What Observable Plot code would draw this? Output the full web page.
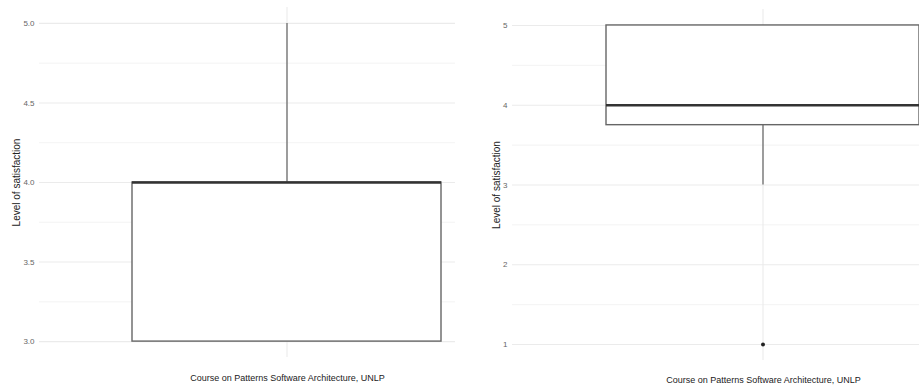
<!DOCTYPE html>
<html>
<head>
<meta charset="utf-8">
<script src="https://cdn.jsdelivr.net/npm/d3@7"></script>
<script src="https://cdn.jsdelivr.net/npm/@observablehq/plot@0.6"></script>
<style>
  html, body { margin: 0; padding: 0; background: #fff; }
  #root { position: relative; width: 919px; height: 388px; overflow: hidden; background: #fff; font-family: "Liberation Sans", Arial, sans-serif; }
  #left { position: absolute; left: 0; top: 0; width: 455px; height: 388px; overflow: hidden; }
  #right { position: absolute; left: 460px; top: 0; width: 459px; height: 388px; overflow: hidden; }
  #left svg, #right svg { max-width: none !important; }
</style>
</head>
<body>
<div id="root"><div id="left"></div><div id="right"></div></div>
<script>
// ---- data (boxplot summary statistics) ----
const categories = ["Course on Patterns Software Architecture, UNLP"];
const yTitle = "Level of satisfaction";

const leftQ1 = [3];
const leftMedian = [4];
const leftQ3 = [4];
const leftLower = [3];
const leftUpper = [5];
const leftOutliers = [];
const leftTicks = [3.0, 3.5, 4.0, 4.5, 5.0];
const leftMinorTicks = [3.25, 3.75, 4.25, 4.75];

const rightQ1 = [3.75];
const rightMedian = [4];
const rightQ3 = [5];
const rightLower = [3];
const rightUpper = [5];
const rightOutliers = [1];
const rightTicks = [1, 2, 3, 4, 5];
const rightMinorTicks = [1.5, 2.5, 3.5, 4.5];

function buildRows(q1, med, q3, lo, hi) {
  return categories.map((c, i) => ({cat: c, q1: q1[i], med: med[i], q3: q3[i], lo: lo[i], hi: hi[i]}));
}

const GRID = "#ebebeb";
const FONT = "Liberation Sans, Arial, sans-serif";

function panel({rows, outliers, ticks, minor, fmt, yDomain, marginLeft, marginTop, marginBottom, width, titleDx, titleDy}) {
  const outRows = outliers.map(v => ({cat: categories[0], v}));
  return Plot.plot({
    width,
    height: 388,
    marginLeft,
    marginRight: 0,
    marginTop,
    marginBottom,
    style: {fontFamily: FONT, background: "#fff", overflow: "visible", maxWidth: "none"},
    x: {type: "band", domain: categories, padding: 0.2308, axis: null},
    y: {domain: yDomain, axis: null},
    marks: [
      Plot.gridY(minor, {stroke: GRID, strokeOpacity: 1, strokeWidth: 0.6}),
      Plot.gridY(ticks, {stroke: GRID, strokeOpacity: 1, strokeWidth: 1.1}),
      Plot.gridX(categories, {stroke: GRID, strokeOpacity: 1, strokeWidth: 1.1}),
      Plot.axisY(ticks, {tickSize: 0, tickPadding: 5, tickFormat: fmt, fontSize: 8, fill: "#666", label: null}),
      Plot.ruleX(rows, {x: "cat", y1: "q3", y2: "hi", stroke: "#555", strokeWidth: 1.1}),
      Plot.ruleX(rows, {x: "cat", y1: "lo", y2: "q1", stroke: "#555", strokeWidth: 1.1}),
      Plot.barY(rows, {x: "cat", y1: "q1", y2: "q3", fill: "#fff", stroke: "#666", strokeWidth: 1.4}),
      Plot.tickY(rows, {x: "cat", y: "med", stroke: "#333", strokeWidth: 2.4}),
      Plot.dot(outRows, {x: "cat", y: "v", r: 2, fill: "#222", stroke: null}),
      Plot.text([yTitle], {frameAnchor: "left", dx: titleDx, rotate: -90, lineAnchor: "middle", textAnchor: "middle", fontSize: 10, fill: "#222"}),
      Plot.text(categories, {frameAnchor: "bottom", dy: titleDy, lineAnchor: "middle", textAnchor: "middle", fontSize: 9, fill: "#222"})
    ]
  });
}

document.getElementById("left").appendChild(panel({
  rows: buildRows(leftQ1, leftMedian, leftQ3, leftLower, leftUpper),
  outliers: leftOutliers,
  ticks: leftTicks,
  minor: leftMinorTicks,
  fmt: d3.format(".1f"),
  yDomain: [2.9, 5.1],
  marginLeft: 39,
  marginTop: 7,
  marginBottom: 31,
  width: 535,
  titleDx: -23,
  titleDy: 21
}));

document.getElementById("right").appendChild(panel({
  rows: buildRows(rightQ1, rightMedian, rightQ3, rightLower, rightUpper),
  outliers: rightOutliers,
  ticks: rightTicks,
  minor: rightMinorTicks,
  fmt: d3.format("d"),
  yDomain: [0.8, 5.2],
  marginLeft: 52,
  marginTop: 9,
  marginBottom: 28,
  width: 554,
  titleDx: -16,
  titleDy: 20
}));
</script>
</body>
</html>
